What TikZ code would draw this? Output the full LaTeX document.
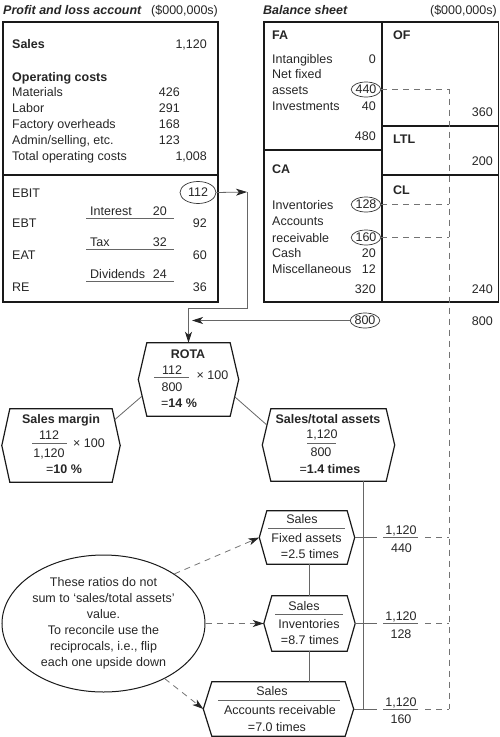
\documentclass[tikz,border=0pt]{standalone}
\usepackage{fontspec}
\setmainfont{Liberation Sans}
\usetikzlibrary{arrows.meta,calc,shapes.geometric}
\newcommand{\hexnode}[5]{%
  \node[hexbody, minimum width=#3, minimum height=#4] (#1) at (#2) {};
  \draw[hexline] (#1.north west) -- (#1.north east) -- ([xshift=#5]#1.east) -- (#1.south east) -- (#1.south west) -- ([xshift=-#5]#1.west) -- cycle;
  \coordinate (#1W) at ([xshift=-#5]#1.west);
  \coordinate (#1E) at ([xshift=#5]#1.east);
}
\begin{document}
\begin{tikzpicture}[x=1pt,y=-1pt,
  every node/.style={inner sep=0pt, font=\fontsize{12.5}{15}\selectfont, text=black!85},
  tl/.style={anchor=base west},
  tr/.style={anchor=base east},
  tc/.style={anchor=base},
  bf/.style={font=\fontsize{12.5}{15}\selectfont\bfseries},
  bx/.style={draw=black!90, line width=1.3pt},
  conn/.style={draw=black!60, line width=0.8pt},
  dsh/.style={draw=black!55, line width=0.8pt, dash pattern=on 6pt off 5pt},
  tip/.style={-{Stealth[length=11pt,width=7pt,inset=3pt,color=black!85]}},
  oval/.style={ellipse, draw=black!80, line width=0.7pt, minimum width=#1, minimum height=15pt},
  hexbody/.style={rectangle, draw=none},
  hexline/.style={draw=black!90, line width=1.2pt},
  fl/.style={draw=black!60, line width=0.8pt},
]
\useasboundingbox (0,0) rectangle (500,737);

% ---------- Profit and loss account ----------
\node[tl] (plt) at (3,14) {\bfseries\itshape Profit and loss account};
\node[tl] (plu) at (151,14) {(\$000,000s)};
\draw[bx] (3,22) rectangle (218,302);
\draw[bx] (3,175) -- (218,175);
\node[tl,bf] (sales) at (12,48) {Sales};
\node[tr] (salesv) at (207,48) {1,120};
\node[tl,bf] (opc) at (12,81) {Operating costs};
\node[tl] (mat) at (12,96) {Materials};
\node[tr] (matv) at (180,96) {426};
\node[tl] (lab) at (12,112) {Labor};
\node[tr] (labv) at (180,112) {291};
\node[tl] (fov) at (12,128) {Factory overheads};
\node[tr] (fovv) at (180,128) {168};
\node[tl] (adm) at (12,144) {Admin/selling, etc.};
\node[tr] (admv) at (180,144) {123};
\node[tl] (toc) at (12,160) {Total operating costs};
\node[tr] (tocv) at (207,160) {1,008};
\node[tl] (ebit) at (12,197) {EBIT};
\node[oval=36pt, minimum height=22pt] (e112) at (198,192.5) {112};
\node[tl] (int) at (90,215.5) {Interest};
\node[tr] (intv) at (167,215.5) {20};
\draw[fl] (86,218.5) -- (174,218.5);
\node[tl] (ebt) at (12,227) {EBT};
\node[tr] (ebtv) at (207,227) {92};
\node[tl] (tax) at (90,246.5) {Tax};
\node[tr] (taxv) at (167,246.5) {32};
\draw[fl] (86,249.5) -- (174,249.5);
\node[tl] (eat) at (12,259) {EAT};
\node[tr] (eatv) at (207,259) {60};
\node[tl] (div) at (90,278.5) {Dividends};
\node[tr] (divv) at (167,278.5) {24};
\draw[fl] (86,281.5) -- (174,281.5);
\node[tl] (re) at (12,291) {RE};
\node[tr] (rev) at (207,291) {36};

% ---------- Balance sheet ----------
\node[tl] (bst) at (263,14) {\bfseries\itshape Balance sheet};
\node[tr] (bsu) at (497,14) {(\$000,000s)};
\draw[bx] (264,22) rectangle (498.5,302);
\draw[bx] (382,22) -- (382,302);
\draw[bx] (264,150) -- (382,150);
\draw[bx] (382,126) -- (498.5,126);
\draw[bx] (382,175) -- (498.5,175);
\node[tl,bf] (fa) at (272,39) {FA};
\node[tl,bf] (of) at (393,39) {OF};
\node[tl] (intg) at (272,63) {Intangibles};
\node[tr] (intgv) at (376,63) {0};
\node[tl] (nf1) at (272,78) {Net fixed};
\node[tl] (nf2) at (272,94) {assets};
\node[oval=29pt] (o440) at (366,89.5) {440};
\node[tl] (inv) at (272,110) {Investments};
\node[tr] (invv) at (376,110) {40};
\node[tr] (ofv) at (493,116) {360};
\node[tr] (fav) at (376,140) {480};
\node[tl,bf] (ltl) at (393,143) {LTL};
\node[tr] (ltlv) at (493,165) {200};
\node[tl,bf] (ca) at (272,173) {CA};
\node[tl,bf] (cl) at (393,194) {CL};
\node[tl] (invt) at (272,209) {Inventories};
\node[oval=29pt] (o128) at (366,204.5) {128};
\node[tl] (ar1) at (272,225) {Accounts};
\node[tl] (ar2) at (272,242) {receivable};
\node[oval=29pt] (o160) at (366,237.5) {160};
\node[tl] (cash) at (272,257) {Cash};
\node[tr] (cashv) at (376,257) {20};
\node[tl] (misc) at (272,273) {Miscellaneous};
\node[tr] (miscv) at (376,273) {12};
\node[tr] (cav) at (376,293) {320};
\node[tr] (clv) at (493,293) {240};
\node[oval=29pt] (o800) at (365,320.5) {800};
\node[tr] (totl) at (493,325) {800};

% dashed reference lines
\coordinate (d1) at (449,89.5);
\coordinate (d2) at (449,204.5);
\coordinate (d3) at (449,237.5);
\coordinate (d4) at (449,709);
\draw[dsh] (o440.east) -- (d1) -- (d4);
\draw[dsh] (o128.east) -- (d2);
\draw[dsh] (o160.east) -- (d3);

% ---------- hexagons ----------
\hexnode{rota}{188.5,379.5}{83pt}{73pt}{8.5pt}
\node[tc,bf] (rotat) at (188,358) {ROTA};
\node[tc] (rotan) at (172,374) {112};
\draw[fl] (154,377) -- (189,377);
\node[tc] (rotad) at (172,391) {800};
\node[tl] (rotax) at (196.5,379) {× 100};
\node[tc] (rotar) at (179,407) {=\textbf{14 \%}};

\hexnode{sm}{61,445.5}{102pt}{73pt}{8pt}
\node[tc,bf] (smt) at (61,423) {Sales margin};
\node[tc] (smn) at (49,439) {112};
\draw[fl] (32,443) -- (67,443);
\node[tc] (smd) at (49,457) {1,120};
\node[tl] (smx) at (73,447) {× 100};
\node[tc] (smr) at (64,473) {=\textbf{10 \%}};

\hexnode{sta}{328.5,445}{115pt}{72pt}{8.5pt}
\node[tc,bf] (stat) at (328,423) {Sales/total assets};
\node[tc] (stan) at (322,438) {1,120};
\draw[fl] (307,443) -- (336,443);
\node[tc] (stad) at (321,456) {800};
\node[tc] (star) at (330,473) {=\textbf{1.4 times}};

\hexnode{hfa}{307,537.5}{80pt}{53pt}{7.5pt}
\node[tc] (hfas) at (302,523) {Sales};
\draw[fl] (268,528) -- (345,528);
\node[tc] (hfad) at (306.5,542) {Fixed assets};
\node[tc] (hfar) at (310,558) {=2.5 times};

\hexnode{hinv}{309.5,623.5}{75pt}{55pt}{8pt}
\node[tc] (hinvs) at (304,610) {Sales};
\draw[fl] (275,614) -- (343,614);
\node[tc] (hinvd) at (309,628) {Inventories};
\node[tc] (hinvr) at (310,644) {=8.7 times};

\hexnode{har}{278.5,709}{133pt}{54pt}{8.5pt}
\node[tc] (hars) at (272,695) {Sales};
\draw[fl] (218,700) -- (340,700);
\node[tc] (hard) at (280,714) {Accounts receivable};
\node[tc] (harr) at (277,731) {=7.0 times};

% ---------- right-hand fractions ----------
\node[tc] (f1n) at (401,534) {1,120};
\draw[fl] (383,537) -- (418,537);
\node[tc] (f1d) at (401.5,552) {440};
\node[tc] (f2n) at (401,620) {1,120};
\draw[fl] (383,623) -- (418,623);
\node[tc] (f2d) at (401,638) {128};
\node[tc] (f3n) at (401,706) {1,120};
\draw[fl] (383,709) -- (418,709);
\node[tc] (f3d) at (401,723) {160};
\draw[dsh] (425,537.5) -- (d4 |- hfaE);
\draw[dsh] (425,623.5) -- (d4 |- hinvE);
\draw[dsh] (425,709) -- (d4);

% ---------- note ellipse ----------
\node[ellipse, draw=black!90, line width=1pt, minimum width=203pt, minimum height=137pt] (note) at (103.5,623.5) {};
\node[align=center, font=\fontsize{12.5}{16}\selectfont] (notet) at (103.5,623) {These ratios do not\\sum to ‘sales/total assets’\\value.\\To reconcile use the\\reciprocals, i.e., flip\\each one upside down};

% ---------- connectors ----------
\coordinate (c1) at (247,192);
\coordinate (c2) at (188.5,308);
\coordinate (c3) at (192,320.5);
\draw[conn,tip] (e112.east) -- (c1);
\draw[conn,tip] (c1) |- (c2) -- (rota.north);
\draw[conn,tip] (o800.west) -- (c3);

\draw[conn] ($(rotaW)!0.45!(rota.south west)$) -- ($(sm.north east)!0.3!(smE)$);
\draw[conn] ($(rotaE)!0.47!(rota.south east)$) -- ($(sta.north west)!0.45!(staW)$);

\coordinate (vx) at (363,0);
\coordinate (rx) at (377,0);
\draw[conn] (sta.south -| vx) -- (harE -| vx);
\draw[conn] (hfaE) -- (hfaE -| rx);
\draw[conn] (hinvE) -- (hinvE -| rx);
\draw[conn] (harE) -- (harE -| rx);
\draw[conn] (hinv.north |- hfa.south) -- (hinv.north);
\draw[conn] (hinv.south) -- (hinv.south |- har.north);

\draw[dsh,tip] (note.35) -- (hfaW);
\draw[dsh,tip] (note.east) -- (hinvW);
\draw[dsh,tip] (note.-42) -- (harW);
\end{tikzpicture}
\end{document}
